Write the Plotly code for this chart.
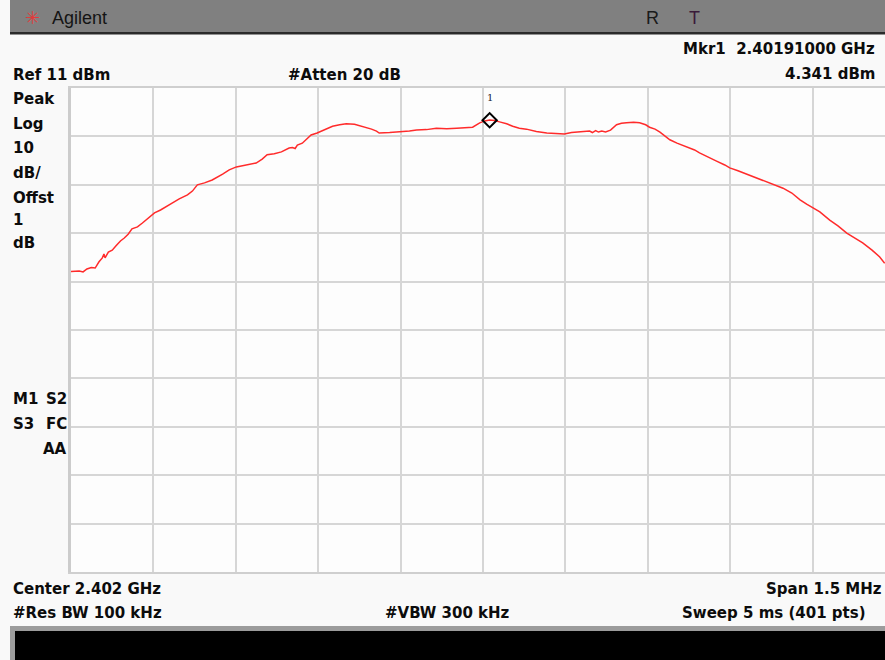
import plotly.graph_objects as go

# ---- data ----
# frequency offset from centre (kHz) and trace level (dBm)
freq_offset_khz = [-750, -743, -735, -728, -721, -713, -706, -699, -693, -690, -688, -682,
                   -675, -668, -660, -653, -646, -639, -629, -620, -611, -598, -587, -577,
                   -566, -553, -538, -529, -520, -507, -493, -474, -462, -449, -431, -413,
                   -402, -393, -380, -367, -353, -347, -342, -338, -329, -320, -313, -302,
                   -289, -274, -261, -249, -234, -221, -212, -203, -194, -189, -170, -152,
                   -134, -121, -103, -85, -66, -48, -32, -19, -6, 3, 12, 21,
                   30, 43, 54, 66, 79, 97, 116, 132, 148, 161, 170, 185,
                   194, 199, 205, 210, 216, 223, 232, 243, 252, 261, 274, 285,
                   296, 303, 313, 322, 331, 340, 353, 371, 385, 394, 409, 425,
                   440, 449, 464, 480, 495, 509, 527, 546, 562, 577, 589, 600,
                   613, 631, 646, 662, 677, 691, 708, 722, 731]
level_dbm = [-26.9, -26.8, -26.8, -27.0, -26.4, -26.1, -26.2, -24.9, -24.1, -23.3, -24.1, -22.9,
             -22.5, -21.6, -20.6, -20.0, -19.2, -18.1, -17.7, -16.9, -16.1, -14.8, -14.2, -13.6,
             -12.8, -11.9, -11.1, -10.3, -9.0, -8.6, -8.0, -6.8, -5.9, -5.3, -4.9, -4.5,
             -3.7, -2.8, -2.6, -2.2, -1.4, -1.3, -1.5, -0.8, -0.4, 0.5, 1.3, 1.7,
             2.3, 3.1, 3.4, 3.6, 3.5, 3.1, 2.9, 2.5, 2.1, 1.7, 1.8, 1.9,
             2.1, 2.3, 2.4, 2.7, 2.6, 2.7, 2.8, 2.9, 3.8, 4.2, 4.4, 4.3,
             4.0, 3.6, 3.1, 2.7, 2.5, 2.0, 1.7, 1.6, 1.5, 1.8, 1.9, 2.0,
             2.1, 1.8, 2.2, 1.9, 2.1, 1.9, 2.3, 3.4, 3.7, 3.8, 3.9, 3.8,
             3.4, 2.9, 2.5, 1.9, 1.1, 0.3, -0.4, -1.2, -1.8, -2.4, -3.3, -4.1,
             -4.9, -5.5, -6.1, -6.8, -7.4, -8.0, -8.8, -9.7, -10.7, -12.1, -13.0, -13.8,
             -14.6, -16.3, -17.5, -19.0, -20.0, -21.0, -22.5, -23.9, -25.2]

marker_offset_khz = [12]
marker_dbm = [4.341]

span_khz = 1500
n_div = 10
ref_dbm = 11
db_per_div = 10
visible_right_khz = 731.6   # screenshot is cropped just before the right frame

# ---- layout helpers (pixel -> paper) ----
W, H = 885, 660
L, R, T, B = 71, 0, 88, 88
PW, PH = W - L - R, H - T - B


def px(x):
    return (x - L) / PW


def py(y):
    return (H - B - y) / PH


fig = go.Figure()
fig.add_trace(go.Scatter(x=freq_offset_khz, y=level_dbm, mode="lines",
                         line=dict(color="#ff2b2b", width=1.5), hoverinfo="skip"))
fig.add_trace(go.Scatter(x=marker_offset_khz, y=marker_dbm, mode="markers",
                         marker=dict(symbol="diamond-open", size=11, color="#000000",
                                     line=dict(width=2, color="#000000")),
                         hoverinfo="skip"))

grid = "#d6d6d6"
fig.update_xaxes(range=[-span_khz / 2, visible_right_khz], tick0=-span_khz / 2,
                 dtick=span_khz / n_div, showgrid=True, gridcolor=grid, gridwidth=2,
                 zeroline=False, showticklabels=False, ticks="",
                 showline=True, linecolor="#cfcfcf", linewidth=2, mirror=True)
fig.update_yaxes(range=[ref_dbm - n_div * db_per_div, ref_dbm], tick0=ref_dbm,
                 dtick=db_per_div, showgrid=True, gridcolor=grid, gridwidth=2,
                 zeroline=False, showticklabels=False, ticks="",
                 showline=True, linecolor="#cccccc", linewidth=3, mirror=False)

shapes = []


def rect(x0, y0, x1, y1, color):
    shapes.append(dict(type="rect", xref="paper", yref="paper",
                       x0=px(x0), x1=px(x1), y0=py(y1), y1=py(y0),
                       fillcolor=color, line=dict(width=0), layer="above"))


rect(10, 0, 885, 32, "#808080")
rect(10, 32, 885, 34.5, "#2b2b2b")
rect(10, 626, 885, 631, "#9c9c9c")
rect(10, 626, 15, 660, "#9c9c9c")
rect(15, 631, 885, 660, "#000000")

anns = []
BF = "DejaVu Sans"


def ann(text, x, y, anchor="left", size=15, bold=True, color="#0c0c0c", family=BF):
    t = f"<b>{text}</b>" if bold else text
    anns.append(dict(text=t, x=px(x), y=py(y), xref="paper", yref="paper",
                     xanchor=anchor, yanchor="middle", showarrow=False,
                     font=dict(family=family, size=size, color=color)))


# title bar
ann("✳", 23, 18, size=18, bold=False, color="#e23a3a")
ann("Agilent", 50, 18, size=18, bold=False, color="#141414", family="Liberation Sans")
ann("R", 652, 18, anchor="center", size=18, bold=False, color="#1a1a1a", family="Liberation Sans")
ann("T", 694, 18, anchor="center", size=18, bold=False, color="#3a1a3a", family="Liberation Sans")

# header
ann("Mkr1  2.40191000 GHz", 877, 49.5, anchor="right")
ann("4.341 dBm", 877, 74.5, anchor="right")
ann("Ref 11 dBm", 11, 75)
ann("#Atten 20 dB", 286, 75)

# left annotations
for txt, yy in [("Peak", 99), ("Log", 124), ("10", 148), ("dB/", 173),
                ("Offst", 198), ("1", 220), ("dB", 243)]:
    ann(txt, 11, yy)
ann("M1", 11, 399)
ann("S2", 69, 399, anchor="right")
ann("S3", 11, 424)
ann("FC", 69, 424, anchor="right")
ann("AA", 69, 449, anchor="right")

# footer
ann("Center 2.402 GHz", 11, 589)
ann("Span 1.5 MHz", 884, 589, anchor="right")
ann("#Res BW 100 kHz", 11, 613)
ann("#VBW 300 kHz", 383, 613)
ann("Sweep 5 ms (401 pts)", 868, 613, anchor="right")

# marker number label
anns.append(dict(text="1", x=marker_offset_khz[0], y=marker_dbm[0], xref="x", yref="y",
                 showarrow=False, yshift=23,
                 font=dict(family="DejaVu Serif", size=10, color="#222233")))

fig.update_layout(width=W, height=H, margin=dict(l=L, r=R, t=T, b=B),
                  paper_bgcolor="#f9f9f9", plot_bgcolor="#fdfdfd",
                  showlegend=False, shapes=shapes, annotations=anns)

fig.write_html("out.html", config={"displayModeBar": False},
               post_script="document.body.style.margin='0';"
                           "document.body.style.overflow='hidden';")
